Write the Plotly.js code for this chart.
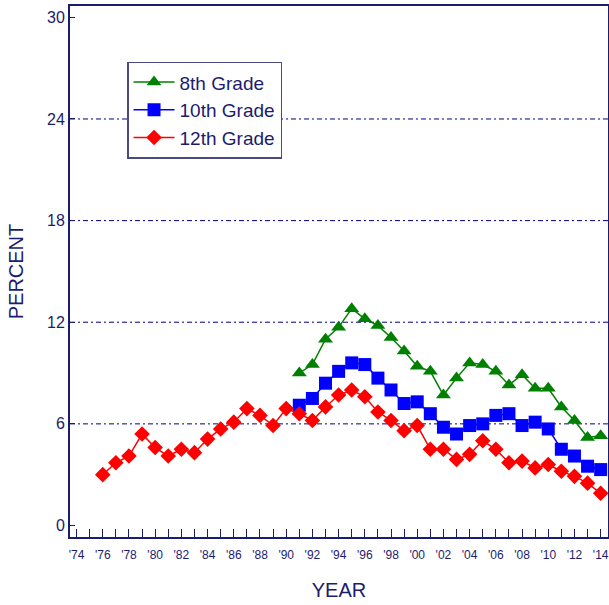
<!DOCTYPE html>
<html>
<head>
<meta charset="utf-8">
<script src="https://cdn.plot.ly/plotly-3.0.1.min.js"></script>
<style>html,body{margin:0;padding:0;background:#fff;}#chart{width:609px;height:605px;}</style>
</head>
<body>
<div id="chart"></div>
<script>
const years12 = [1976,1977,1978,1979,1980,1981,1982,1983,1984,1985,1986,1987,1988,1989,1990,1991,1992,1993,1994,1995,1996,1997,1998,1999,2000,2001,2002,2003,2004,2005,2006,2007,2008,2009,2010,2011,2012,2013,2014];
const grade12 = [3.0,3.7,4.1,5.4,4.6,4.1,4.5,4.3,5.1,5.7,6.1,6.9,6.5,5.9,6.9,6.6,6.2,7.0,7.7,8.0,7.6,6.7,6.2,5.6,5.9,4.5,4.5,3.9,4.2,5.0,4.5,3.7,3.8,3.4,3.6,3.2,2.9,2.5,1.9];
const years8_10 = [1991,1992,1993,1994,1995,1996,1997,1998,1999,2000,2001,2002,2003,2004,2005,2006,2007,2008,2009,2010,2011,2012,2013,2014];
const grade8 = [9.0,9.5,11.0,11.7,12.8,12.2,11.8,11.1,10.3,9.4,9.1,7.7,8.7,9.6,9.5,9.1,8.3,8.9,8.1,8.1,7.0,6.2,5.2,5.3];
const grade10 = [7.1,7.5,8.4,9.1,9.6,9.5,8.7,8.0,7.2,7.3,6.6,5.8,5.4,5.9,6.0,6.5,6.6,5.9,6.1,5.7,4.5,4.1,3.5,3.3];
const seriesNames = ["8th Grade","10th Grade","12th Grade"];
const xTickVals = [1974,1976,1978,1980,1982,1984,1986,1988,1990,1992,1994,1996,1998,2000,2002,2004,2006,2008,2010,2012,2014];
const xTickText = ["'74","'76","'78","'80","'82","'84","'86","'88","'90","'92","'94","'96","'98","'00","'02","'04","'06","'08","'10","'12","'14"];
const yTickVals = [0,6,12,18,24,30];
const gridVals = [6,12,18,24];

const navy = '#1c1c6e';
const traces = [
  {x: years8_10, y: grade8, name: seriesNames[0], mode: 'lines+markers', type: 'scatter',
   line: {color: '#008000', width: 1.5}, marker: {symbol: 'triangle-up', size: 13, color: '#008000'}},
  {x: years8_10, y: grade10, name: seriesNames[1], mode: 'lines+markers', type: 'scatter',
   line: {color: '#0000ff', width: 1.5}, marker: {symbol: 'square', size: 13, color: '#0000ff'}},
  {x: years12, y: grade12, name: seriesNames[2], mode: 'lines+markers', type: 'scatter',
   line: {color: '#ff0000', width: 1.5}, marker: {symbol: 'diamond', size: 12, color: '#ff0000'}}
];

const shapes = gridVals.map(v => ({
  type: 'line', xref: 'paper', x0: 0, x1: 1, yref: 'y', y0: v, y1: v,
  line: {color: '#000080', width: 1, dash: '5px,3px,2px,3px'}, layer: 'below'
}));

const layout = {
  width: 609, height: 605,
  margin: {l: 70, r: 1, t: 6, b: 68},
  paper_bgcolor: '#fff', plot_bgcolor: '#fff',
  font: {family: 'Liberation Sans, Arial, sans-serif', color: navy},
  showlegend: true,
  legend: {x: 0.106, y: 0.895, xanchor: 'left', yanchor: 'top',
    bgcolor: '#fff', bordercolor: '#4a4a80', borderwidth: 1.5,
    font: {size: 19, color: navy}, tracegroupgap: 0, itemsizing: 'trace', itemwidth: 41},
  xaxis: {
    range: [1973.5, 2014.56], showgrid: false, zeroline: false,
    showline: true, linecolor: navy, linewidth: 2, mirror: true,
    tickvals: xTickVals, ticktext: xTickText,
    ticks: 'inside', ticklen: 8, tickcolor: navy, tickwidth: 1,
    minor: {dtick: 1, tick0: 1974, ticks: 'inside', ticklen: 8, tickcolor: navy, tickwidth: 1, showgrid: false},
    tickfont: {size: 12, color: navy}, ticklabelstandoff: 6,
    title: {text: 'YEAR', font: {size: 20, color: navy}, standoff: 22}
  },
  yaxis: {
    range: [-0.68, 30.67], showgrid: false, zeroline: false,
    showline: true, linecolor: navy, linewidth: 2, mirror: true,
    tickvals: yTickVals, ticks: 'inside', ticklen: 5, tickcolor: navy,
    tickfont: {size: 16, color: navy},
    title: {text: 'PERCENT', font: {size: 20, color: navy}, standoff: 18}
  },
  shapes: shapes
};

Plotly.newPlot('chart', traces, layout, {displayModeBar: false, staticPlot: true});
</script>
</body>
</html>
